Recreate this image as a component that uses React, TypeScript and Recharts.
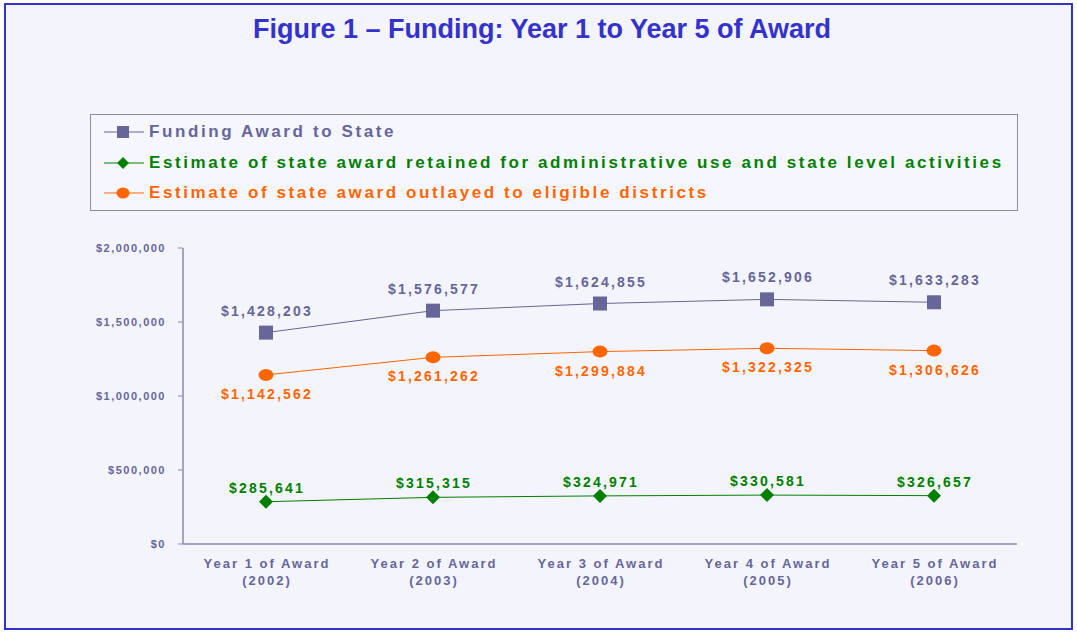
import { LineChart, Line, XAxis, YAxis, LabelList } from "recharts";

// Categories and series values
const yearLabels = ["Year 1 of Award", "Year 2 of Award", "Year 3 of Award", "Year 4 of Award", "Year 5 of Award"];
const years = ["(2002)", "(2003)", "(2004)", "(2005)", "(2006)"];
const fundingAward = [1428203, 1576577, 1624855, 1652906, 1633283];
const retainedAdmin = [285641, 315315, 324971, 330581, 326657];
const outlayedDistricts = [1142562, 1261262, 1299884, 1322325, 1306626];
const yTicks = [0, 500000, 1000000, 1500000, 2000000];
const edgeTicks = [0, 1, 2, 3, 4, 5];

const PURPLE = "#666699";
const GREEN = "#008000";
const ORANGE = "#ff6600";
const AXIS = "#8a8ab4";
const BLUE = "#3333cc";
const FONT = "Arial, 'Liberation Sans', Helvetica, sans-serif";

const data = yearLabels.map((label, i) => ({
  cat: label,
  year: years[i],
  award: fundingAward[i],
  retained: retainedAdmin[i],
  outlayed: outlayedDistricts[i],
}));

const money = (v: number) => "$" + v.toLocaleString("en-US");

function SquareDot(props: any) {
  const { cx, cy } = props;
  if (cx == null || cy == null) return null;
  return <rect x={cx - 7} y={cy - 7} width={14} height={14} fill={PURPLE} />;
}

function DiamondDot(props: any) {
  const { cx, cy } = props;
  if (cx == null || cy == null) return null;
  return <path d={`M${cx},${cy - 7} L${cx + 7},${cy} L${cx},${cy + 7} L${cx - 7},${cy} Z`} fill={GREEN} />;
}

function EllipseDot(props: any) {
  const { cx, cy } = props;
  if (cx == null || cy == null) return null;
  return <ellipse cx={cx} cy={cy} rx={7.5} ry={6} fill={ORANGE} />;
}

// point label, shifted up (negative) or down (positive) from the marker
const makeLabel = (color: string, shift: number) => (props: any) => {
  const vb = props.viewBox || {};
  const x = props.x ?? vb.x;
  const y = props.y ?? vb.y;
  if (x == null || y == null) return null;
  return (
    <text
      x={x + 1}
      y={y + shift}
      textAnchor="middle"
      fill={color}
      fontSize={14}
      fontWeight="bold"
      letterSpacing={2.2}
      fontFamily={FONT}
    >
      {money(Number(props.value))}
    </text>
  );
};

function YearTick(props: any) {
  const { x, y, payload, index } = props;
  return (
    <text x={x + 1} y={y} textAnchor="middle" fill={PURPLE} fontSize={13} fontWeight="bold" letterSpacing={2} fontFamily={FONT}>
      <tspan x={x + 1} dy={15}>{payload.value}</tspan>
      <tspan x={x + 1} dy={17}>{years[index] ?? data[index]?.year}</tspan>
    </text>
  );
}

function LegendRow({ color, label, marker }: { color: string; label: string; marker: "square" | "diamond" | "ellipse" }) {
  return (
    <div style={{ display: "flex", alignItems: "center", height: 30.5 }}>
      <svg width={46} height={20} style={{ marginLeft: 12, flex: "none" }}>
        <line x1={1} y1={10} x2={41} y2={10} stroke={color} strokeWidth={1} />
        {marker === "square" && <rect x={14} y={4} width={12} height={12} fill={color} />}
        {marker === "diamond" && <path d="M20,4 L26,10 L20,16 L14,10 Z" fill={color} />}
        {marker === "ellipse" && <ellipse cx={20} cy={10} rx={6.5} ry={5.5} fill={color} />}
      </svg>
      <span style={{ color, fontFamily: FONT, fontWeight: "bold", fontSize: 17, letterSpacing: 2.6, whiteSpace: "nowrap" }}>
        {label}
      </span>
    </div>
  );
}

export default function App() {
  return (
    <div style={{ position: "absolute", left: 0, top: 0, width: 1077, height: 634, background: "#ffffff" }}>
      <div
        style={{
          position: "absolute",
          left: 4,
          top: 3,
          width: 1065,
          height: 623,
          border: `2px solid ${BLUE}`,
          background: "#f4f4fd",
        }}
      />
      <div
        style={{
          position: "absolute",
          left: 0,
          top: 14,
          width: 1084,
          textAlign: "center",
          color: BLUE,
          fontFamily: FONT,
          fontWeight: "bold",
          fontSize: 27,
        }}
      >
        Figure 1 – Funding: Year 1 to Year 5 of Award
      </div>
      <div
        style={{
          position: "absolute",
          left: 90,
          top: 114,
          width: 926,
          height: 93,
          border: `1px solid ${AXIS}`,
          background: "#f6f6fe",
          paddingTop: 2,
          boxSizing: "content-box",
        }}
      >
        <LegendRow color={PURPLE} label="Funding Award to State" marker="square" />
        <LegendRow color={GREEN} label="Estimate of state award retained for administrative use and state level activities" marker="diamond" />
        <LegendRow color={ORANGE} label="Estimate of state award outlayed to eligible districts" marker="ellipse" />
      </div>
      <div style={{ position: "absolute", left: 0, top: 0 }}>
        <LineChart width={1077} height={634} data={data} margin={{ top: 248, right: 60, bottom: 50, left: 73 }}>
          <XAxis
            xAxisId="cat"
            dataKey="cat"
            padding={{ left: 83, right: 83 }}
            axisLine={false}
            tickLine={false}
            tick={<YearTick />}
            interval={0}
            height={39}
          />
          {/* tick marks between the categories, on the base line */}
          <XAxis
            xAxisId="base"
            type="number"
            domain={[0, 5]}
            ticks={edgeTicks}
            tick={false}
            tickSize={5}
            tickLine={{ stroke: AXIS }}
            axisLine={{ stroke: AXIS, strokeWidth: 1.5 }}
            height={1}
            allowDataOverflow
          />
          <YAxis
            domain={[0, 2000000]}
            ticks={yTicks}
            width={110}
            tickSize={5}
            tickMargin={12}
            tickLine={{ stroke: AXIS }}
            axisLine={{ stroke: AXIS, strokeWidth: 1.5 }}
            tickFormatter={(v: number) => money(v)}
            tick={{ fill: PURPLE, fontSize: 11, fontWeight: "bold", letterSpacing: 1.5, fontFamily: FONT }}
          />
          <Line
            xAxisId="cat"
            dataKey="award"
            stroke={PURPLE}
            strokeWidth={1}
            dot={<SquareDot />}
            activeDot={false}
            isAnimationActive={false}
          >
            <LabelList dataKey="award" content={makeLabel(PURPLE, -17)} />
          </Line>
          <Line
            xAxisId="cat"
            dataKey="outlayed"
            stroke={ORANGE}
            strokeWidth={1}
            dot={<EllipseDot />}
            activeDot={false}
            isAnimationActive={false}
          >
            <LabelList dataKey="outlayed" content={makeLabel(ORANGE, 24)} />
          </Line>
          <Line
            xAxisId="cat"
            dataKey="retained"
            stroke={GREEN}
            strokeWidth={1}
            dot={<DiamondDot />}
            activeDot={false}
            isAnimationActive={false}
          >
            <LabelList dataKey="retained" content={makeLabel(GREEN, -9)} />
          </Line>
        </LineChart>
      </div>
    </div>
  );
}
